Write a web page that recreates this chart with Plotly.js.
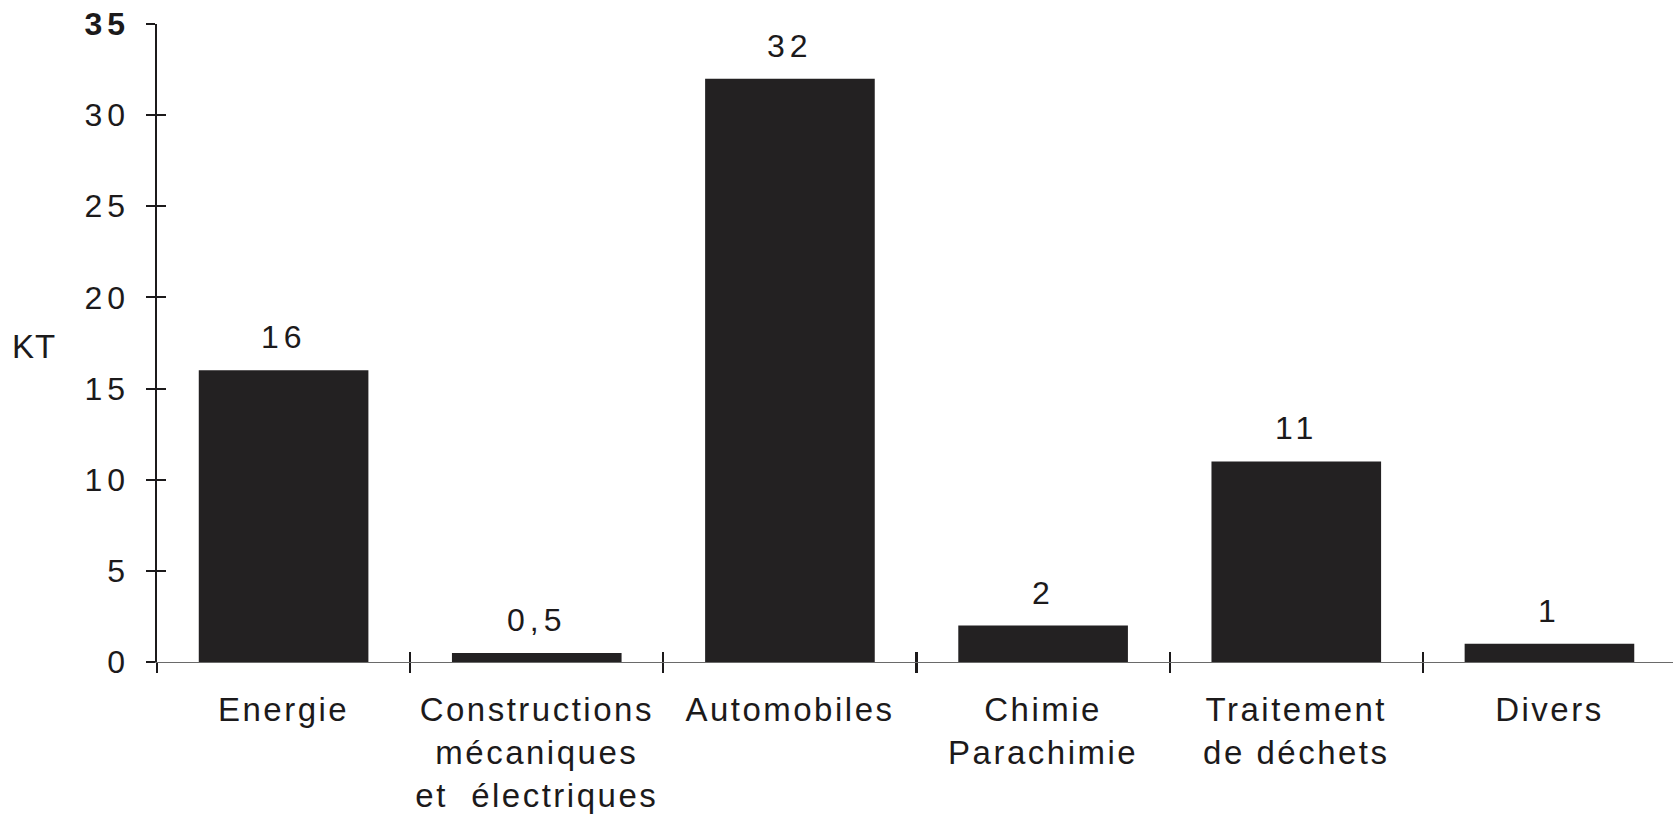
<!DOCTYPE html>
<html>
<head>
<meta charset="utf-8">
<script src="https://cdn.plot.ly/plotly-3.0.1.min.js"></script>
<style>
  html, body { margin: 0; padding: 0; background: #ffffff; }
  #chart { width: 1673px; height: 822px; }
  .xtick text { letter-spacing: 2.5px; }
  .ytick text { letter-spacing: 5px; }
  .annotation-text { letter-spacing: 5px; }
  .annotation[data-index="6"] .annotation-text { letter-spacing: 1px; }
</style>
</head>
<body>
<div id="chart"></div>
<script>
// ---- data ----
const categories = [
  "Energie",
  "Constructions<br>mécaniques<br>et\u00a0\u00a0électriques",
  "Automobiles",
  "Chimie<br>Parachimie",
  "Traitement<br>de déchets",
  "Divers"
];
const values = [16, 0.5, 32, 2, 11, 1];
const valueLabels = ["16", "0,5", "32", "2", "11", "1"];
const yTickVals = [0, 5, 10, 15, 20, 25, 30, 35];
const yTickText = ["0", "5", "10", "15", "20", "25", "30", "<b>35</b>"];
const yAxisLabel = "KT";

// ---- styles ----
const ink = "#1c1a1b";
const barColor = "#232122";
const fontFamily = "'Liberation Sans', Arial, Helvetica, sans-serif";

const trace = {
  type: "bar",
  x: categories,
  y: values,
  width: 0.67,
  marker: { color: barColor, line: { width: 0 } },
  hoverinfo: "skip",
  showlegend: false
};

// empty helper trace so the overlay axes (crossing ticks, baseline) get drawn
const axisHelper = {
  type: "scatter", mode: "none", x: [], y: [],
  xaxis: "x2", yaxis: "y2", hoverinfo: "skip", showlegend: false
};

const annotations = categories.map((c, i) => ({
  x: c, y: values[i], xref: "x", yref: "y",
  text: valueLabels[i], showarrow: false,
  yanchor: "bottom", yshift: 13,
  font: { family: fontFamily, size: 32, color: ink }
}));
annotations.push({
  xref: "paper", yref: "y", x: 0, y: 17.3,
  xanchor: "right", xshift: -95,
  text: yAxisLabel, showarrow: false,
  font: { family: fontFamily, size: 33, color: ink }
});

const layout = {
  width: 1673, height: 822,
  margin: { l: 157, r: 0, t: 24, b: 160 },
  paper_bgcolor: "#ffffff", plot_bgcolor: "rgba(0,0,0,0)",
  font: { family: fontFamily, color: ink, size: 32 },
  showlegend: false,
  xaxis: {
    type: "category",
    range: [-0.5, 5.488],
    tickson: "boundaries",
    ticks: "outside", ticklen: 10, tickwidth: 2.2, tickcolor: ink,
    showline: false, showgrid: false, zeroline: false,
    tickfont: { family: fontFamily, size: 33, color: ink },
    ticklabelstandoff: 25,
    fixedrange: true
  },
  xaxis2: {
    overlaying: "x", anchor: "y2",
    type: "linear", range: [-0.5, 5.488],
    tickmode: "linear", tick0: -0.5, dtick: 1,
    ticks: "inside", ticklen: 10, tickwidth: 2.2, tickcolor: ink,
    showticklabels: false, showgrid: false, zeroline: false,
    showline: true, linecolor: "#6a6a6a", linewidth: 1.4,
    side: "bottom", fixedrange: true
  },
  yaxis: {
    range: [0, 35],
    tickmode: "array", tickvals: yTickVals, ticktext: yTickText,
    ticks: "outside", ticklen: 9, tickwidth: 2, tickcolor: ink,
    showline: true, linecolor: ink, linewidth: 2.5,
    showgrid: false, zeroline: false,
    tickfont: { family: fontFamily, size: 32, color: ink },
    ticklabelstandoff: 9,
    fixedrange: true
  },
  yaxis2: {
    overlaying: "y", anchor: "x2", side: "left",
    range: [0, 35],
    tickmode: "array", tickvals: yTickVals,
    ticks: "inside", ticklen: 9, tickwidth: 2, tickcolor: ink,
    showticklabels: false, showline: false, showgrid: false, zeroline: false,
    fixedrange: true
  },
  annotations: annotations
};

Plotly.newPlot("chart", [trace, axisHelper], layout, { displayModeBar: false, staticPlot: true });
</script>
</body>
</html>
